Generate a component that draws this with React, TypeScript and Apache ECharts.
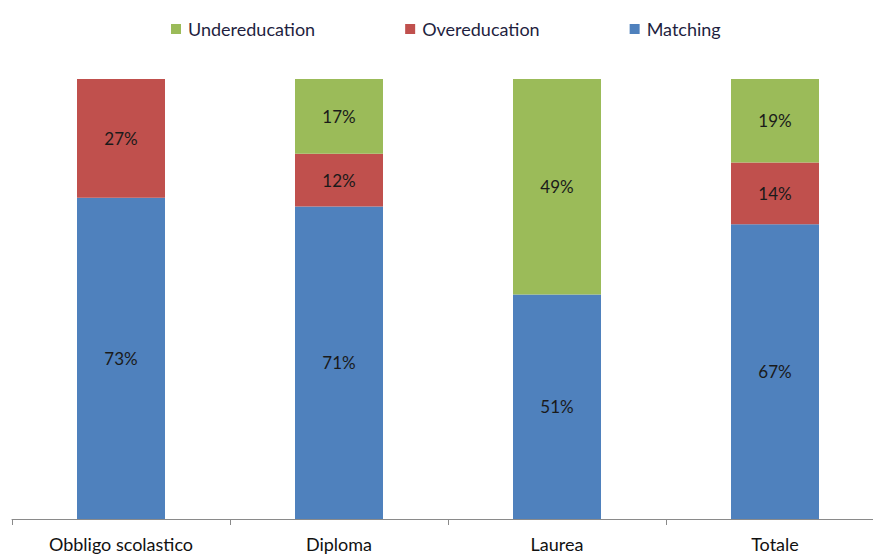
import React, { useEffect, useRef } from "react";
import * as echarts from "echarts";

const categories = ["Obbligo scolastico", "Diploma", "Laurea", "Totale"];
const matching = [73, 71, 51, 67];
const overeducation = [27, 12, 0, 14];
const undereducation = [0, 17, 49, 19];
const legendOrder = ["Undereducation", "Overeducation", "Matching"];

const FONT = "Lato";

export default function App() {
  const ref = useRef<HTMLDivElement>(null);
  useEffect(() => {
    if (!ref.current) return;
    const chart = echarts.init(ref.current, null, { renderer: "svg" });
    const label = {
      show: true,
      position: "inside",
      color: "#1a1a1a",
      fontFamily: FONT,
      fontSize: 17,
      formatter: (p: any) => (p.value > 0 ? p.value + "%" : ""),
    };
    const mk = (name: string, data: number[], color: string) => ({
      name,
      type: "bar",
      stack: "total",
      data,
      barWidth: 88,
      itemStyle: { color },
      label,
    });
    chart.setOption({
      animation: false,
      legend: {
        data: legendOrder,
        top: 15,
        left: 166,
        itemGap: 90,
        itemWidth: 10,
        itemHeight: 10,
        icon: "rect",
        textStyle: { fontFamily: FONT, fontSize: 18, color: "#1f1f3f", padding: [0, 0, 0, 2] },
      },
      grid: { left: 12, right: 0, top: 79, bottom: 36 },
      xAxis: {
        type: "category",
        data: categories,
        axisLine: { lineStyle: { color: "#8a8a8a" } },
        axisTick: { show: true, length: 6, lineStyle: { color: "#8a8a8a" } },
        axisLabel: { fontFamily: FONT, fontSize: 18, lineHeight: 18, color: "#111", margin: 16 },
      },
      yAxis: { type: "value", min: 0, max: 100, show: false, splitLine: { show: false } },
      series: [
        mk("Matching", matching, "#4F81BD"),
        mk("Overeducation", overeducation, "#C0504D"),
        mk("Undereducation", undereducation, "#9BBB59"),
      ],
    });
    return () => chart.dispose();
  }, []);
  return (
    <div style={{ position: "absolute", left: 0, top: 0, width: 873, height: 555, overflow: "hidden", background: "#fff" }}>
      <div ref={ref} style={{ width: 884, height: 555 }} />
    </div>
  );
}
